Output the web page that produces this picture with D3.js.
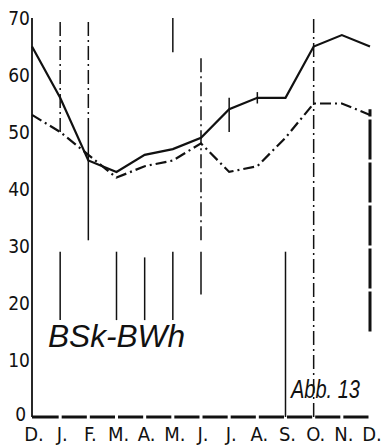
<!DOCTYPE html>
<html>
<head>
<meta charset="utf-8">
<script src="https://cdn.jsdelivr.net/npm/d3@7"></script>
<style>
  body { margin: 0; background: #fff; }
  text { font-family: "DejaVu Sans Condensed", "DejaVu Sans", sans-serif; fill: #111; }
</style>
</head>
<body>
<div id="chart"></div>
<script>
// months along the x axis
var months = ["D.", "J.", "F.", "M.", "A.", "M.", "J.", "J.", "A.", "S.", "O.", "N.", "D."];
// solid curve
var solidVals = [65, 56, 45, 43, 46, 47, 49, 54, 56, 56, 65, 67, 65];
// dash-dot curve
var dashVals = [53, 50, 46, 42, 44, 45, 48, 43, 44, 49, 55, 55, 53];
// vertical bars: month index, low, high, style
var barMonth = [1, 1, 2, 2, 3, 4, 5, 5, 6, 6, 7, 8, 9, 10, 12];
var barLow   = [50, 17, 50, 31, 17, 17, 64, 17, 31, 21.5, 50, 55, 0, 0, 15];
var barHigh  = [70, 29, 70, 50, 29, 28, 70, 29, 63, 29, 56, 57, 29, 70, 54];
var barStyle = ["dd", "s", "dd", "s", "s", "s", "s", "s", "dd", "s", "s", "s", "s", "dd", "thick"];
var yTicks = [0, 10, 20, 30, 40, 50, 60, 70];

var width = 381, height = 446;

var svg = d3.select("#chart")
  .append("svg")
    .attr("width", width)
    .attr("height", height);

var x = d3.scalePoint()
  .domain(d3.range(months.length))
  .range([32, 370]);

var y = d3.scaleLinear()
  .domain([0, 70])
  .range([417, 18]);

// y axis line + labels
svg.append("line")
  .attr("x1", 32).attr("x2", 32)
  .attr("y1", y(0)).attr("y2", y(70))
  .attr("stroke", "#111").attr("stroke-width", 1.8);

svg.selectAll(".ylab")
  .data(yTicks)
  .enter().append("text")
    .attr("x", function(d) { return d == 0 ? 26 : 30; })
    .attr("y", function(d) { return y(d) + (d == 0 ? 4 : 7); })
    .attr("text-anchor", "end")
    .attr("font-size", 19)
    .text(function(d) { return d; });

// baseline, broken at each month
svg.selectAll(".base")
  .data(d3.range(months.length - 1))
  .enter().append("line")
    .attr("x1", function(d) { return x(d) + (d == 0 ? 0 : 1.5); })
    .attr("x2", function(d) { return x(d + 1) - 1.5; })
    .attr("y1", y(0)).attr("y2", y(0))
    .attr("stroke", "#111").attr("stroke-width", 3);

// month labels
svg.selectAll(".mlab")
  .data(months)
  .enter().append("text")
    .attr("x", function(d, i) { return x(i) + 2; })
    .attr("y", 441)
    .attr("text-anchor", "middle")
    .attr("font-size", 20)
    .text(function(d) { return d; });

// vertical bars
var bars = barMonth.map(function(m, i) {
  return {m: m, lo: barLow[i], hi: barHigh[i], s: barStyle[i]};
});
svg.selectAll(".bar")
  .data(bars)
  .enter().append("line")
    .attr("x1", function(d) { return x(d.m); })
    .attr("x2", function(d) { return x(d.m); })
    .attr("y1", function(d) { return y(d.lo); })
    .attr("y2", function(d) { return y(d.hi); })
    .attr("stroke", "#111")
    .attr("stroke-width", function(d) { return d.s == "thick" ? 3 : 1.5; })
    .attr("stroke-dasharray", function(d) {
      if (d.s == "dd") return "14,4,2,4";
      if (d.s == "thick") return "40,3";
      return null;
    });

// curves
var line = d3.line()
  .x(function(d, i) { return x(i); })
  .y(function(d) { return y(d); });

svg.append("path")
  .datum(dashVals)
  .attr("d", line)
  .attr("fill", "none")
  .attr("stroke", "#111")
  .attr("stroke-width", 2.2)
  .attr("stroke-dasharray", "11,4,2,4");

svg.append("path")
  .datum(solidVals)
  .attr("d", line)
  .attr("fill", "none")
  .attr("stroke", "#111")
  .attr("stroke-width", 2.2);

// annotations
svg.append("text")
  .attr("x", 48).attr("y", 347)
  .attr("font-size", 32)
  .attr("font-style", "italic")
  .attr("textLength", 137)
  .attr("lengthAdjust", "spacingAndGlyphs")
  .style("font-family", "'Liberation Sans', Arial, sans-serif")
  .text("BSk-BWh");

svg.append("text")
  .attr("x", 291).attr("y", 398)
  .attr("font-size", 26)
  .attr("font-style", "italic")
  .attr("textLength", 69)
  .attr("lengthAdjust", "spacingAndGlyphs")
  .style("font-family", "'Liberation Sans', Arial, sans-serif")
  .text("Abb. 13");
</script>
</body>
</html>
